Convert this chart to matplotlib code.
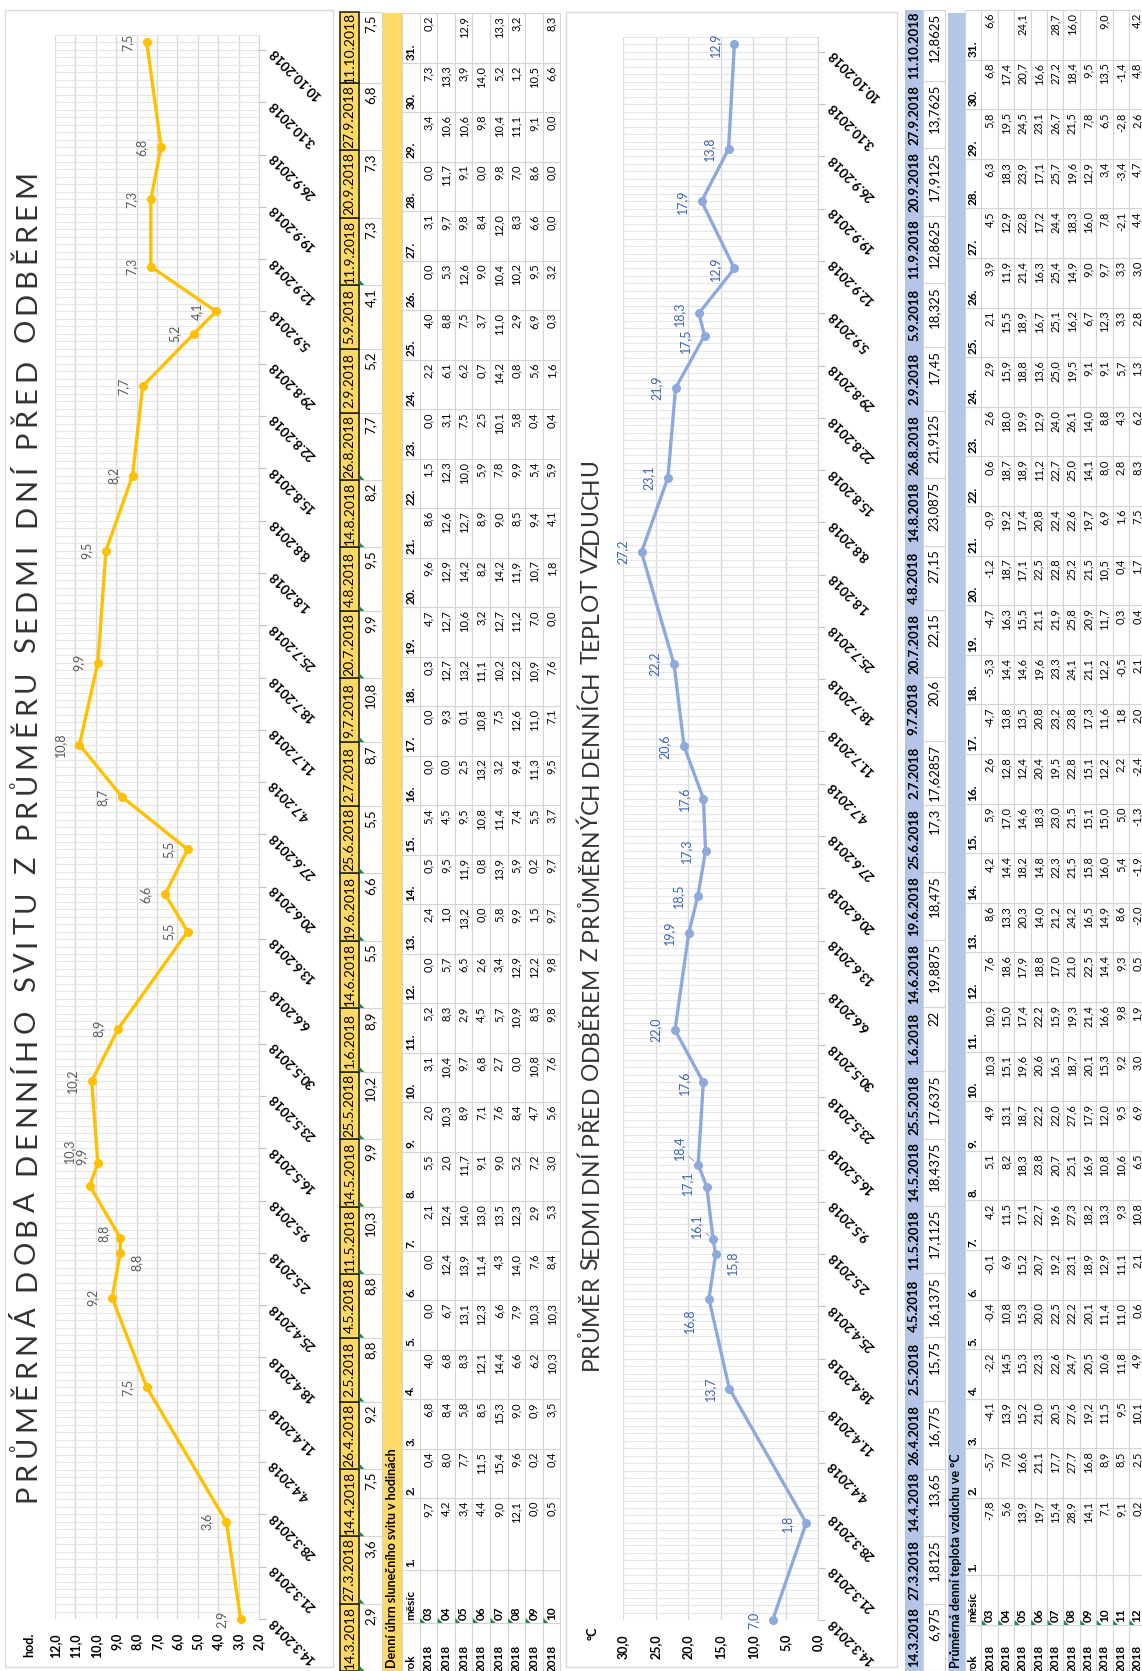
import datetime as dt
from decimal import Decimal, ROUND_HALF_UP

import matplotlib
matplotlib.use('Agg')
import matplotlib.pyplot as plt
from matplotlib.patches import Rectangle, Polygon
from matplotlib.font_manager import FontProperties

plt.rcParams['font.family'] = ['Lato', 'DejaVu Sans']

# dny odberu a prumery za sedm dni pred odberem
odbery = ['14.3.2018', '27.3.2018', '14.4.2018', '26.4.2018', '2.5.2018', '4.5.2018',
          '11.5.2018', '14.5.2018', '25.5.2018', '1.6.2018', '14.6.2018', '19.6.2018',
          '25.6.2018', '2.7.2018', '9.7.2018', '20.7.2018', '4.8.2018', '14.8.2018',
          '26.8.2018', '2.9.2018', '5.9.2018', '11.9.2018', '20.9.2018', '27.9.2018',
          '11.10.2018']
svit_7dni = [2.9, 3.6, 7.5, 9.2, 8.8, 8.8, 10.3, 9.9, 10.2, 8.9, 5.5, 6.6, 5.5, 8.7, 10.8,
             9.9, 9.5, 8.2, 7.7, 5.2, 4.1, 7.3, 7.3, 6.8, 7.5]
teplota_7dni = [6.975, 1.8125, 13.65, 16.775, 15.75, 16.1375, 17.1125, 18.4375, 17.6375,
                22, 19.8875, 18.475, 17.3, 17.62857, 20.6, 22.15, 27.15, 23.0875, 21.9125,
                17.45, 18.325, 12.8625, 17.9125, 13.7625, 12.8625]

# denni uhrn slunecniho svitu v hodinach (dny 1..31)
svit_03 = [9.7, 0.4, 6.8, 4.0, 0.0, 0.0, 2.1, 5.5, 2.0, 3.1, 5.2, 0.0, 2.4, 0.5, 5.4, 0.0,
           0.0, 0.3, 4.7, 9.6, 8.6, 1.5, 0.0, 2.2, 4.0, 0.0, 3.1, 0.0, 3.4, 7.3, 0.2]
svit_04 = [4.2, 8.0, 8.4, 6.8, 6.7, 12.4, 12.4, 2.0, 10.3, 10.4, 8.3, 5.7, 1.0, 9.5, 4.5, 0.0,
           9.3, 12.7, 12.7, 12.9, 12.6, 12.3, 3.1, 6.1, 8.8, 5.3, 9.7, 11.7, 10.6, 13.3, None]
svit_05 = [3.4, 7.7, 5.8, 8.3, 13.1, 13.9, 14.0, 11.7, 8.9, 9.7, 2.9, 6.5, 13.2, 11.9, 9.5, 2.5,
           0.1, 13.2, 10.6, 14.2, 12.7, 10.0, 7.5, 6.2, 7.5, 12.6, 9.8, 9.1, 10.6, 3.9, 12.9]
svit_06 = [4.4, 11.5, 8.5, 12.1, 12.3, 11.4, 13.0, 9.1, 7.1, 6.8, 4.5, 2.6, 0.0, 0.8, 10.8, 13.2,
           10.8, 11.1, 3.2, 8.2, 8.9, 5.9, 2.5, 0.7, 3.7, 9.0, 8.4, 0.0, 9.8, 14.0, None]
svit_07 = [9.0, 15.4, 15.3, 14.4, 6.6, 4.3, 13.5, 9.0, 7.6, 2.7, 5.7, 3.4, 5.8, 13.9, 11.4, 3.2,
           7.5, 10.2, 12.7, 14.2, 9.0, 7.8, 10.1, 14.2, 11.0, 10.4, 12.0, 9.8, 10.4, 5.2, 13.3]
svit_08 = [12.1, 9.6, 9.0, 6.6, 7.9, 14.0, 12.3, 5.2, 8.4, 0.0, 10.9, 12.9, 9.9, 5.9, 7.4, 9.4,
           12.6, 12.2, 11.2, 11.9, 8.5, 9.9, 5.8, 0.8, 2.9, 10.2, 8.3, 7.0, 11.1, 1.2, 3.2]
svit_09 = [0.0, 0.2, 0.9, 6.2, 10.3, 7.6, 2.9, 7.2, 4.7, 10.8, 8.5, 12.2, 1.5, 0.2, 5.5, 11.3,
           11.0, 10.9, 7.0, 10.7, 9.4, 5.4, 0.4, 5.6, 6.9, 9.5, 6.6, 8.6, 9.1, 10.5, None]
svit_10 = [0.5, 0.4, 3.5, 10.3, 10.3, 8.4, 5.3, 3.0, 5.6, 7.6, 9.8, 9.8, 9.7, 9.7, 3.7, 9.5,
           7.1, 7.6, 0.0, 1.8, 4.1, 5.9, 0.4, 1.6, 0.3, 3.2, 0.0, 0.0, 0.0, 6.6, 8.3]
mesice_svit = ['03', '04', '05', '06', '07', '08', '09', '10']

# prumerna denni teplota vzduchu ve °C (dny 1..31)
tep_03 = [-7.8, -5.7, -4.1, -2.2, -0.4, -0.1, 4.2, 5.1, 4.9, 10.3, 10.9, 7.6, 8.6, 4.2, 5.9, 2.6,
          -4.7, -5.3, -4.7, -1.2, -0.9, 0.6, 2.6, 2.9, 2.1, 3.9, 4.5, 6.3, 5.8, 6.8, 6.6]
tep_04 = [5.6, 7.0, 13.9, 14.5, 10.8, 6.9, 11.5, 8.2, 13.1, 15.1, 15.0, 18.6, 13.3, 14.4, 17.0,
          12.8, 13.8, 14.4, 16.3, 18.7, 19.2, 18.7, 18.0, 15.9, 15.5, 11.9, 12.9, 18.3, 19.5,
          17.4, None]
tep_05 = [13.9, 16.6, 15.2, 15.3, 15.3, 15.2, 17.1, 18.3, 18.7, 19.6, 17.4, 17.9, 20.3, 18.2,
          14.6, 12.4, 13.5, 14.6, 15.5, 17.1, 17.4, 18.9, 19.9, 18.8, 18.9, 21.4, 22.8, 23.9,
          24.5, 20.7, 24.1]
tep_06 = [19.7, 21.1, 21.0, 22.3, 20.0, 20.7, 22.7, 23.8, 22.2, 20.6, 22.2, 18.8, 14.0, 14.8,
          18.3, 20.4, 20.8, 19.6, 21.1, 22.5, 20.8, 11.2, 12.9, 13.6, 16.7, 16.3, 17.2, 17.1,
          23.1, 16.6, None]
tep_07 = [15.4, 17.7, 20.5, 22.6, 22.5, 19.2, 19.6, 20.7, 22.0, 16.5, 15.9, 17.0, 21.2, 22.3,
          23.0, 19.5, 23.2, 23.3, 21.9, 22.8, 22.4, 22.7, 24.0, 25.0, 25.1, 25.4, 24.4, 25.7,
          26.7, 27.2, 28.7]
tep_08 = [28.9, 27.7, 27.6, 24.7, 22.2, 23.1, 27.3, 25.1, 27.6, 18.7, 19.3, 21.0, 24.2, 21.5,
          21.5, 22.8, 23.8, 24.1, 25.8, 25.2, 22.6, 25.0, 26.1, 19.5, 16.2, 14.9, 18.3, 19.6,
          21.5, 18.4, 16.0]
tep_09 = [14.1, 16.8, 19.2, 20.5, 20.1, 18.9, 18.2, 16.9, 17.9, 20.1, 21.4, 22.5, 16.5, 15.8,
          15.1, 15.1, 17.3, 21.1, 20.9, 21.5, 19.7, 14.1, 14.0, 9.1, 6.7, 9.0, 16.0, 12.9, 7.8,
          9.5, None]
tep_10 = [7.1, 8.9, 11.5, 10.6, 11.4, 12.9, 13.3, 10.8, 12.0, 15.3, 16.6, 14.4, 14.9, 16.0,
          15.0, 12.2, 11.6, 12.2, 11.7, 10.5, 6.9, 8.0, 8.8, 9.1, 12.3, 9.7, 7.8, 3.4, 6.5,
          13.5, 9.0]
tep_11 = [9.1, 8.5, 9.5, 11.8, 11.0, 11.1, 9.3, 10.6, 9.5, 9.2, 9.8, 9.3, 8.6, 5.4, 5.0, 2.2,
          1.8, -0.5, 0.3, 0.4, 1.6, 2.8, 4.3, 5.7, 3.3, 3.3, -2.1, -3.4, -2.8, -1.4, None]
tep_12 = [0.2, 2.5, 10.1, 4.9, 0.6, 2.1, 10.8, 6.5, 6.9, 3.0, 1.9, 0.5, -2.0, -1.9, -1.3, -2.4,
          2.0, 2.1, 0.4, 1.7, 7.5, 8.3, 6.2, 1.3, 2.8, 3.0, 4.4, 4.7, 2.6, 4.8, 4.2]
mesice_teplota = ['03', '04', '05', '06', '07', '08', '09', '10', '11', '12']

svit_denni = [svit_03, svit_04, svit_05, svit_06, svit_07, svit_08, svit_09, svit_10]
teplota_denni = [tep_03, tep_04, tep_05, tep_06, tep_07, tep_08, tep_09, tep_10, tep_11, tep_12]

W, H = 1142, 1671
fig = plt.figure(figsize=(W / 100, H / 100), dpi=100)
page = fig.add_axes([0, 0, 1, 1], zorder=0)
page.set_xlim(0, W)
page.set_ylim(H, 0)
page.axis('off')

START = dt.date(2018, 3, 14)


def box(x0, y0, x1, y1):
    return [x0 / W, 1 - y1 / H, (x1 - x0) / W, (y1 - y0) / H]


def den(s):
    d, m, y = map(int, s.split('.'))
    return (dt.date(y, m, d) - START).days


def cz(v, nd=1):
    q = Decimal(str(v)).quantize(Decimal(1).scaleb(-nd), rounding=ROUND_HALF_UP)
    return str(q).replace('.', ',')


def surove(v):
    s = repr(float(v))
    if s.endswith('.0'):
        s = s[:-2]
    return s.replace('.', ',')


def vtext(x, y, s, anchor='center', **kw):
    ha = {'top': 'right', 'bottom': 'left', 'center': 'center'}[anchor]
    page.text(x, y, s, rotation=90, rotation_mode='anchor', ha=ha, va='center', **kw)


def nadpis(x, yc, s, size, delka, color='#333333'):
    # nadpis s roztazenymi mezerami mezi pismeny, vysazeny po znacich
    r = fig.canvas.get_renderer()
    prop = FontProperties(family=['Lato', 'DejaVu Sans'], size=size)
    sirka_aa = r.get_text_width_height_descent('aa', prop, ismath=False)[0]
    sirka_mezera = r.get_text_width_height_descent('a a', prop, ismath=False)[0] - sirka_aa
    sirky = []
    for c in s:
        if c == ' ':
            sirky.append(sirka_mezera)
        else:
            sirky.append(r.get_text_width_height_descent(c, prop, ismath=False)[0])
    rozestup = (delka - sum(sirky)) / (len(s) - 1)
    y = yc + delka / 2
    for c, w in zip(s, sirky):
        if c != ' ':
            page.text(x, y - w / 2, c, rotation=90, ha='center', va='center',
                      fontproperties=prop, color=color)
        y -= w + rozestup


def cell(x0, y0, x1, y1, fc='white', ec='#D4D4D4', lw=0.8, z=1):
    page.add_patch(Rectangle((x0, y0), x1 - x0, y1 - y0, fc=fc, ec=ec, lw=lw, zorder=z))


def flag(x0, y1):
    page.add_patch(Polygon([(x0 + 0.5, y1), (x0 + 5.5, y1), (x0 + 0.5, y1 - 5)], closed=True,
                           fc='#1E8C45', ec='none', zorder=4))


def graf(rect, hodnoty, vmin, vmax, krok, barva, barva_popisku, posuny, vodici):
    ax = fig.add_axes(box(*rect), zorder=2)
    ax.set_facecolor('none')
    dny = [den(d) for d in odbery]
    ax.set_xlim(vmax, vmin)
    ax.set_ylim(0, 212)
    xt = list(range(vmin, vmax + 1, krok))
    ax.set_xticks(xt)
    ax.set_xticklabels([f'{v},0' for v in xt], rotation=90, fontsize=9, fontweight='bold')
    ax.tick_params(axis='x', length=0, pad=10)

    yt = list(range(0, 211, 7))
    ax.yaxis.tick_right()
    ax.set_yticks(yt)
    popisky = []
    for t in yt:
        d = START + dt.timedelta(days=t)
        popisky.append(f'{d.day}.{d.month}.{d.year}')
    ax.set_yticklabels(popisky, fontsize=9.5, fontweight='bold')
    for lab in ax.get_yticklabels():
        lab.set_rotation(135)
        lab.set_rotation_mode('anchor')
        lab.set_ha('right')
        lab.set_va('center')
    ax.set_yticks(range(0, 213), minor=True)
    ax.tick_params(axis='y', which='major', length=5, width=0.8, color='#BFBFBF', pad=4)
    ax.tick_params(axis='y', which='minor', length=0)
    ax.grid(axis='y', which='both', color='#E6E6E6', lw=0.8)
    ax.grid(axis='x', which='major', color='#D9D9D9', lw=1.0)
    ax.set_axisbelow(True)
    for s in ('top', 'left', 'bottom'):
        ax.spines[s].set_visible(False)
    ax.spines['right'].set_color('#D9D9D9')

    ax.plot(hodnoty, dny, color=barva, lw=2.4, marker='o', ms=5.5, clip_on=False, zorder=3)
    for i, (v, d) in enumerate(zip(hodnoty, dny)):
        dx, dy = posuny.get(i, (-14, 0))
        kw = {}
        if i in vodici:
            kw['arrowprops'] = dict(arrowstyle='-', color='#A6A6A6', lw=0.8,
                                    shrinkA=1, shrinkB=4)
        ax.annotate(cz(v), (v, d), xytext=(dx, dy), textcoords='offset points', rotation=90,
                    ha='center', va='center', fontsize=9, color=barva_popisku,
                    annotation_clip=False, **kw)
    return ax


# ---------------- graf slunecniho svitu ----------------
page.add_patch(Rectangle((5, 10), 328, 1657, fc='white', ec='#D9D9D9', lw=1, zorder=0.5))
nadpis(27, 836, 'PRŮMĚRNÁ DOBA DENNÍHO SVITU Z PRŮMĚRU SEDMI DNÍ PŘED ODBĚREM', 21, 1332)
vtext(29, 1633, 'hod.', anchor='top', fontsize=9, fontweight='bold')
graf((55, 35, 259, 1619), svit_7dni, 2, 12, 1, '#FFC000', '#595959',
     {4: (12, -7), 5: (-12, 3), 6: (-14.5, 25), 7: (-12, 5)}, [])

# ---------------- graf teploty ----------------
page.add_patch(Rectangle((566, 12), 331, 1655, fc='white', ec='#D9D9D9', lw=1, zorder=0.5))
nadpis(591, 915, 'PRŮMĚR SEDMI DNÍ PŘED ODBĚREM Z PRŮMĚRNÝCH DENNÍCH TEPLOT VZDUCHU', 16.5, 911)
vtext(593, 1627, '°C', anchor='top', fontsize=9, fontweight='bold')
graf((623, 37, 818, 1620), teplota_7dni, 0, 30, 5, '#8EA9DB', '#3C64AE',
     {3: (-14, -16), 4: (12, -6), 5: (-12, 10), 6: (-14, 3), 7: (-14, 12), 19: (-14, -4)},
     [5, 7])


# ---------------- tabulky ----------------
def hlavicka(x_dat, x_hod, y0, y1, fc, ec, lw, tucne, texty_hodnot, vlajky):
    # sirka bunky podle delky data
    vahy = [len(d) + 10 for d in odbery]
    k = (y1 - y0) / sum(vahy)
    bot = y1
    for i, d in enumerate(odbery):
        top = bot - vahy[i] * k
        cell(x_dat[0], top, x_dat[1], bot, fc=fc, ec=ec, lw=lw, z=2 if ec != fc else 1)
        vtext((x_dat[0] + x_dat[1]) / 2, (top + bot) / 2, d, fontsize=9.5 if tucne else 10,
              fontweight='bold' if tucne else 'normal')
        cell(x_hod[0], top, x_hod[1], bot)
        vtext((x_hod[0] + x_hod[1]) / 2, top + 3, texty_hodnot[i], anchor='top', fontsize=9.5)
        if i in vlajky:
            flag(x_hod[0], bot)
        bot = top


def denni(x_head, row_w, sloupce, mesice, radky):
    x_rows = [x_head + row_w * k for k in range(len(mesice) + 2)]
    nazvy = ['rok', 'měsíc'] + [f'{k}.' for k in range(1, 32)]
    for j, (top, bot) in enumerate(sloupce):
        for r in range(len(mesice) + 1):
            x0, x1 = x_rows[r], x_rows[r + 1]
            cell(x0, top, x1, bot)
            xc = (x0 + x1) / 2
            if r == 0:
                vtext(xc, bot - 3, nazvy[j], anchor='bottom', fontsize=8.5, fontweight='bold')
            elif j == 0:
                vtext(xc, bot - 3, '2018', anchor='bottom', fontsize=8.5, fontweight='bold')
                flag(x0, bot)
            elif j == 1:
                vtext(xc, bot - 3, mesice[r - 1], anchor='bottom', fontsize=8.5,
                      fontweight='bold')
                flag(x0, bot)
            else:
                v = radky[r - 1][j - 2]
                if v is not None:
                    vtext(xc, top + 3, cz(v), anchor='top', fontsize=8)


def sloupce_dnu(y31, w, d1_bot, mesic_bot, rok_bot):
    cols = [(mesic_bot, rok_bot), (d1_bot, mesic_bot)]
    for k in range(1, 32):
        top = y31 + (31 - k) * w
        bot = d1_bot if k == 1 else top + w
        cols.append((top, bot))
    return cols


# slunecni svit
hlavicka((340, 359), (359, 382), 12, 1671, '#FFD966', '#262626', 1.2, False,
         [cz(v) for v in svit_7dni],
         [i for i in range(len(odbery)) if i not in (13, 19, 20, 22, 23, 24)])
page.add_patch(Rectangle((383, 13), 19, 1660, fc='#FFD966', ec='none', zorder=1))
vtext(392.5, 1668, 'Denní úhrn slunečního svitu v hodinách', anchor='bottom', fontsize=9,
      fontweight='bold')
denni(402, 17.6, sloupce_dnu(13, 49.5, 1570, 1623, 1675), mesice_svit, svit_denni)

# teplota vzduchu
hlavicka((905, 923), (923, 945), 10, 1671, '#B4C6E7', '#B4C6E7', 0, True,
         [surove(v) for v in teplota_7dni], [])
page.add_patch(Rectangle((948, 13), 17, 1660, fc='#B4C6E7', ec='none', zorder=1))
vtext(956.5, 1668, 'Průměrná denní teplota vzduchu ve °C', anchor='bottom', fontsize=9,
      fontweight='bold')
denni(965, 16.4, sloupce_dnu(10, 49.6, 1575, 1625, 1675), mesice_teplota, teplota_denni)

fig.savefig('out.png', dpi=100, facecolor='white')
